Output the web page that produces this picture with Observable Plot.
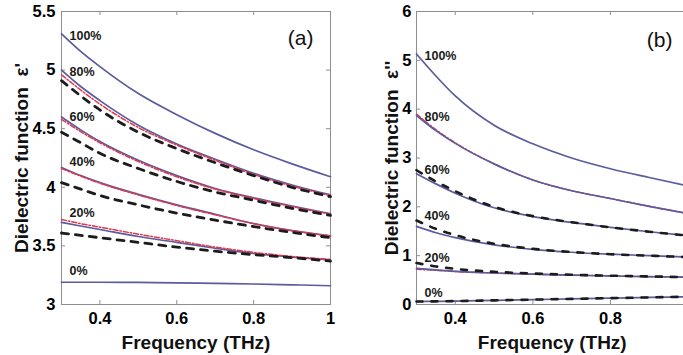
<!DOCTYPE html>
<html>
<head>
<meta charset="utf-8">
<script src="https://cdn.jsdelivr.net/npm/d3@7"></script>
<script src="https://cdn.jsdelivr.net/npm/@observablehq/plot@0.6"></script>
<style>
  html, body { margin: 0; padding: 0; background: #fff; }
  #fig { position: relative; width: 683px; height: 355px; overflow: hidden; }
  #fig svg { position: absolute; top: 0; }
</style>
</head>
<body>
<div id="fig"></div>
<script>
// Frequency grid (THz) shared by every curve
const freq = [0.3, 0.35, 0.4, 0.5, 0.6, 0.7, 0.8, 0.9, 1.0];
const fractions = ["100%", "80%", "60%", "40%", "20%", "0%"];

// (a) real part ε' — model (solid), fit (dash-dot), effective-medium (dashed)
const realSolid = [
  [5.31, 5.16, 5.03, 4.80, 4.62, 4.46, 4.32, 4.20, 4.09],
  [5.00, 4.86, 4.74, 4.53, 4.37, 4.24, 4.12, 4.02, 3.935],
  [4.60, 4.49, 4.39, 4.23, 4.10, 3.99, 3.91, 3.84, 3.775],
  [4.17, 4.10, 4.04, 3.94, 3.85, 3.77, 3.69, 3.63, 3.585],
  [3.70, 3.67, 3.64, 3.58, 3.53, 3.48, 3.435, 3.405, 3.38],
  [3.19, 3.19, 3.19, 3.188, 3.185, 3.18, 3.175, 3.168, 3.16]
];
const realFit = [
  null,
  [4.96, 4.83, 4.71, 4.51, 4.36, 4.23, 4.11, 4.01, 3.93],
  [4.58, 4.475, 4.38, 4.22, 4.09, 3.985, 3.905, 3.835, 3.77],
  [4.16, 4.095, 4.035, 3.935, 3.845, 3.765, 3.69, 3.63, 3.585],
  [3.725, 3.69, 3.66, 3.60, 3.545, 3.49, 3.445, 3.41, 3.385],
  null
];
const realDashed = [
  null,
  [4.91, 4.78, 4.66, 4.47, 4.33, 4.21, 4.10, 4.00, 3.92],
  [4.47, 4.38, 4.29, 4.16, 4.05, 3.96, 3.89, 3.82, 3.76],
  [4.04, 3.985, 3.93, 3.85, 3.78, 3.72, 3.665, 3.615, 3.57],
  [3.61, 3.59, 3.57, 3.53, 3.49, 3.455, 3.425, 3.40, 3.37],
  null
];

// (b) imaginary part ε''
const imagSolid = [
  [5.13, 4.68, 4.27, 3.67, 3.29, 3.00, 2.78, 2.60, 2.43],
  [3.87, 3.56, 3.30, 2.88, 2.55, 2.33, 2.17, 2.01, 1.86],
  [2.68, 2.47, 2.28, 1.98, 1.80, 1.68, 1.58, 1.49, 1.41],
  [1.60, 1.47, 1.37, 1.22, 1.13, 1.07, 1.03, 1.00, 0.97],
  [0.74, 0.71, 0.68, 0.645, 0.62, 0.60, 0.585, 0.57, 0.56],
  [0.06, 0.065, 0.07, 0.085, 0.10, 0.115, 0.13, 0.145, 0.16]
];
const imagFit = [
  null,
  [3.90, 3.58, 3.31, 2.88, 2.55, 2.33, 2.17, 2.01, 1.86],
  null,
  null,
  [0.72, 0.70, 0.675, 0.645, 0.62, 0.60, 0.585, 0.57, 0.56],
  null
];
const imagDashed = [
  null,
  null,
  [2.75, 2.52, 2.32, 2.00, 1.81, 1.685, 1.58, 1.49, 1.41],
  [1.72, 1.55, 1.42, 1.245, 1.14, 1.075, 1.03, 1.00, 0.97],
  [0.85, 0.78, 0.73, 0.67, 0.635, 0.61, 0.59, 0.575, 0.56],
  [0.06, 0.065, 0.07, 0.085, 0.10, 0.115, 0.13, 0.145, 0.16]
];

// Where each volume-fraction label sits (ε value at the left edge)
const realLabelAt = [5.295, 4.984, 4.596, 4.212, 3.781, 3.282];
const imagLabelAt = [5.08, 3.83, 2.76, 1.81, 0.96, 0.235];

// Axis ticks
const xTicks = [0.4, 0.6, 0.8, 1];
const realTicks = [3, 3.5, 4, 4.5, 5, 5.5];
const imagTicks = [0, 1, 2, 3, 4, 5, 6];

const H = 355;
const FONT = "'Liberation Sans', Arial, sans-serif";
const axisGray = "#8e8e8e";
const solidColor = "#5a5c9e";
const fitColor = "#e2364c";
const dashColor = "#1c1c1c";

function tidy(series) {
  const rows = [];
  series.forEach((vals, i) => {
    if (!vals) return;
    vals.forEach((v, j) => rows.push({f: freq[j], v, fraction: fractions[i]}));
  });
  return rows;
}

function panel(o) {
  const mt = 11, mb = 51;
  const plotH = H - mt - mb;
  const plotW = o.width - o.ml - o.mr;
  const labels = fractions.map((t, i) => ({t, f: freq[0], v: o.labelAt[i]}));
  const solidLine = Plot.line(tidy(o.solid), {x: "f", y: "v", z: "fraction", curve: "monotone-x", stroke: solidColor, strokeWidth: 1.7});
  const fitLine = Plot.line(tidy(o.fit), {x: "f", y: "v", z: "fraction", curve: "monotone-x", stroke: fitColor, strokeWidth: 1.5, strokeDasharray: "5,2,1.5,2"});
  return Plot.plot({
    width: o.width,
    height: H,
    marginLeft: o.ml,
    marginRight: o.mr,
    marginTop: mt,
    marginBottom: mb,
    style: {fontFamily: FONT, background: "transparent", overflow: "visible"},
    x: {domain: [0.3, 1]},
    y: {domain: o.yDomain},
    marks: [
      // inward tick marks on all four sides
      Plot.tickX(xTicks, {x: d => d, insetTop: plotH - 4, stroke: axisGray}),
      Plot.tickX(xTicks, {x: d => d, insetBottom: plotH - 4, stroke: axisGray}),
      Plot.tickY(o.yTicks, {y: d => d, insetRight: plotW - 4, stroke: axisGray}),
      Plot.tickY(o.yTicks, {y: d => d, insetLeft: plotW - 4, stroke: axisGray}),
      Plot.frame({stroke: axisGray, strokeWidth: 1}),
      Plot.axisX(xTicks, {tickSize: 0, tickPadding: 8, fontSize: 16.5, fontWeight: "bold", tickFormat: d => String(d), label: null}),
      Plot.axisY(o.yTicks, {tickSize: 0, tickPadding: o.yPad, fontSize: 16.5, fontWeight: "bold", tickFormat: d => String(d), label: null}),
      // curves
      ...(o.fitOnTop ? [solidLine, fitLine] : [fitLine, solidLine]),
      Plot.line(tidy(o.dashed), {x: "f", y: "v", z: "fraction", curve: "monotone-x", stroke: dashColor, strokeWidth: o.dashWidth, strokeDasharray: o.dash}),
      // volume-fraction labels
      Plot.text(labels, {x: "f", y: "v", text: "t", dx: 8, textAnchor: "start", lineAnchor: "middle", fontSize: 12.5, fontWeight: "bold", fill: "#1a1a1a"}),
      // panel tag
      Plot.text([o.tag], {frameAnchor: "top-right", dx: o.tagDx, dy: o.tagDy, lineAnchor: "middle", fontSize: 21, fill: "#111"}),
      // axis titles
      Plot.text(["Frequency (THz)"], {frameAnchor: "bottom", dy: 44, textAnchor: "middle", lineAnchor: "bottom", fontSize: 19, fontWeight: "bold", fill: "#111"}),
      Plot.text([o.yTitle], {frameAnchor: "left", rotate: -90, dx: o.yTitleDx, textAnchor: "middle", lineAnchor: "bottom", fontSize: 19, fontWeight: "bold", fill: "#111"})
    ]
  });
}

const fig = document.getElementById("fig");

const a = panel({
  width: 340, ml: 61, mr: 10,
  yDomain: [3, 5.5], yTicks: realTicks, yPad: 6,
  solid: realSolid, fit: realFit, fitOnTop: true, dashed: realDashed, dash: "7,7", dashWidth: 2.8,
  labelAt: realLabelAt, tag: "(a)", tagDx: -17, tagDy: 27,
  yTitle: "Dielectric function  ε'", yTitleDx: -34
});
a.style.left = "0px";
fig.appendChild(a);

const b = panel({
  width: 350, ml: 76, mr: 2.5,
  yDomain: [0, 6], yTicks: imagTicks, yPad: 5,
  solid: imagSolid, fit: imagFit, fitOnTop: false, dashed: imagDashed, dash: "6,9", dashWidth: 2.6,
  labelAt: imagLabelAt, tag: "(b)", tagDx: -15.5, tagDy: 29,
  yTitle: "Dielectric function  ε''", yTitleDx: -19
});
b.style.left = "340px";
fig.appendChild(b);
</script>
</body>
</html>
